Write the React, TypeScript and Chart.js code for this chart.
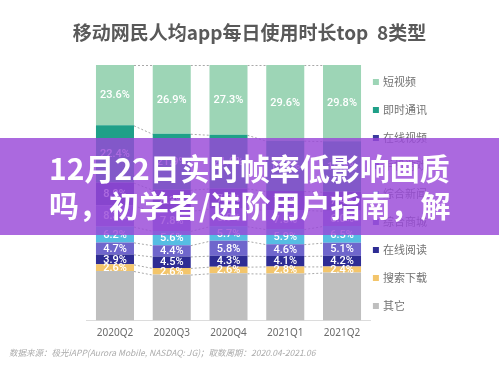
import React, { useEffect, useRef } from 'react';
import { Chart, registerables } from 'chart.js';

Chart.register(...registerables);

const categories = ['2020Q2', '2020Q3', '2020Q4', '2021Q1', '2021Q2'];

const shortVideo = [23.6, 26.9, 27.3, 29.6, 29.8];
const instantMsg = [22.4, 21.9, 21.0, 19.7, 19.8];
const onlineVideo = [8.9, 8.3, 7.9, 7.4, 7.4];
const mobileGame = [8.3, 7.8, 6.9, 7.5, 6.0];
const generalNews = [6.2, 5.6, 5.7, 5.9, 6.5];
const generalMall = [4.7, 4.4, 5.8, 4.6, 5.1];
const onlineReading = [3.9, 4.5, 4.3, 4.1, 4.2];
const searchDownload = [2.6, 2.6, 2.6, 2.8, 2.4];
const others = [19.4, 18.0, 18.5, 18.4, 18.8];

const titleText = '移动网民人均app每日使用时长top  8类型';
const sourceText = '数据来源：极光iAPP(Aurora Mobile, NASDAQ: JG)；取数周期：2020.04-2021.06';
const bannerLines = ['12月22日实时帧率低影响画质', '吗，初学者/进阶用户指南，解'];

const FONT = '"Noto Sans CJK SC", "Noto Sans", sans-serif';

export default function App() {
  const ref = useRef<HTMLCanvasElement>(null);

  useEffect(() => {
    const canvas = ref.current;
    if (!canvas) return;

    // bottom -> top stacking order
    const series = [
      { label: '其它', data: others, color: '#bfbfbf', showLabel: false },
      { label: '搜索下载', data: searchDownload, color: '#f3c56b', showLabel: true },
      { label: '在线阅读', data: onlineReading, color: '#2e2c94', showLabel: true },
      { label: '综合商城', data: generalMall, color: '#6f66cc', showLabel: true },
      { label: '综合新闻', data: generalNews, color: '#56bde3', showLabel: true },
      { label: '手机游戏', data: mobileGame, color: '#7d72d4', showLabel: true },
      { label: '在线视频', data: onlineVideo, color: '#3b3a9e', showLabel: true },
      { label: '即时通讯', data: instantMsg, color: '#1fa088', showLabel: true },
      { label: '短视频', data: shortVideo, color: '#9dd5b6', showLabel: true },
    ];

    const seriesLines = {
      id: 'seriesLines',
      beforeDatasetsDraw(chart: any) {
        const ctx = chart.ctx;
        ctx.save();
        ctx.setLineDash([2, 2]);
        ctx.strokeStyle = '#a8a8a8';
        ctx.lineWidth = 1;
        chart.data.datasets.forEach((_: any, i: number) => {
          const meta = chart.getDatasetMeta(i);
          for (let j = 0; j < meta.data.length - 1; j++) {
            const a = meta.data[j].getProps(['x', 'y', 'width'], true);
            const b = meta.data[j + 1].getProps(['x', 'y', 'width'], true);
            ctx.beginPath();
            ctx.moveTo(a.x + a.width / 2, a.y + 0.5);
            ctx.lineTo(b.x - b.width / 2, b.y + 0.5);
            ctx.stroke();
          }
        });
        ctx.restore();
      },
    };

    const valueLabels = {
      id: 'valueLabels',
      afterDatasetsDraw(chart: any) {
        const ctx = chart.ctx;
        ctx.save();
        ctx.fillStyle = '#ffffff';
        ctx.font = '500 11px Roboto, "Noto Sans", sans-serif';
        ctx.textAlign = 'center';
        ctx.textBaseline = 'middle';
        chart.data.datasets.forEach((ds: any, i: number) => {
          if (!series[i].showLabel) return;
          const meta = chart.getDatasetMeta(i);
          meta.data.forEach((el: any, j: number) => {
            const p = el.getProps(['x', 'y', 'base'], true);
            ctx.fillText(ds.data[j].toFixed(1) + '%', p.x, (p.y + p.base) / 2 + 0.5);
          });
        });
        ctx.restore();
      },
    };

    const sideLegend = {
      id: 'sideLegend',
      afterDraw(chart: any) {
        const ctx = chart.ctx;
        const area = chart.chartArea;
        ctx.save();
        ctx.font = '11px ' + FONT;
        ctx.textBaseline = 'middle';
        ctx.textAlign = 'left';
        const items = [...chart.data.datasets].reverse();
        items.forEach((ds: any, k: number) => {
          const y = area.top + 17 + k * 28;
          const x = area.right + 2.5;
          ctx.fillStyle = ds.backgroundColor;
          ctx.fillRect(x, y - 3, 6, 6);
          ctx.fillStyle = '#737373';
          ctx.fillText(ds.label, x + 10, y);
        });
        ctx.restore();
      },
    };

    const chart = new Chart(canvas, {
      type: 'bar',
      data: {
        labels: categories,
        datasets: series.map((s) => ({
          label: s.label,
          data: s.data,
          backgroundColor: s.color,
          borderWidth: 0,
          barPercentage: 0.67,
          categoryPercentage: 1,
          stack: 'share',
        })),
      },
      options: {
        responsive: true,
        maintainAspectRatio: false,
        animation: false,
        layout: { padding: { left: 9, right: 9, top: 0, bottom: 0 } },
        plugins: {
          legend: { display: false },
          tooltip: { enabled: false },
          title: {
            display: true,
            text: titleText,
            color: '#595959',
            font: { family: FONT, size: 19, weight: 'bold' },
            padding: { top: 21.6, bottom: 20.6 },
          },
          subtitle: {
            display: true,
            position: 'bottom',
            align: 'start',
            text: sourceText,
            color: '#ababab',
            font: { family: FONT, size: 8.5, style: 'italic' },
            padding: { top: 1.9, bottom: 16.9 },
          },
        },
        scales: {
          x: {
            stacked: true,
            grid: { display: false, drawTicks: false },
            border: { display: true, color: '#dcdcdc' },
            ticks: { color: '#6b6b6b', font: { family: '"Noto Sans", sans-serif', size: 10 }, padding: 6.7 },
          },
          y: {
            stacked: true,
            min: 0,
            max: 100,
            display: true,
            grid: { display: false, drawTicks: false },
            border: { display: false },
            ticks: { display: false },
            afterFit: (s: any) => {
              s.width = 77.6;
            },
          },
          y2: {
            position: 'right',
            display: true,
            min: 0,
            max: 100,
            grid: { display: false, drawTicks: false },
            border: { display: false },
            ticks: { display: false },
            afterFit: (s: any) => {
              s.width = 119.6;
            },
          },
        },
      } as any,
      plugins: [seriesLines, valueLabels, sideLegend],
    });

    return () => chart.destroy();
  }, []);

  return (
    <div style={{ position: 'absolute', left: 0, top: 0, width: 499, height: 375, background: '#ffffff', overflow: 'hidden' }}>
      <canvas ref={ref} />
      <div
        style={{
          position: 'absolute',
          left: 0,
          top: 138,
          width: 499,
          height: 97,
          background: 'rgba(152, 72, 216, 0.82)',
          overflow: 'hidden',
        }}
      >
        <div
          style={{
            position: 'absolute',
            left: 49,
            top: 11,
            color: '#ffffff',
            fontFamily: FONT,
            fontWeight: 700,
            fontSize: 30,
            lineHeight: '37px',
            whiteSpace: 'nowrap',
          }}
        >
          {bannerLines.map((l) => (
            <div key={l}>{l}</div>
          ))}
        </div>
      </div>
    </div>
  );
}
